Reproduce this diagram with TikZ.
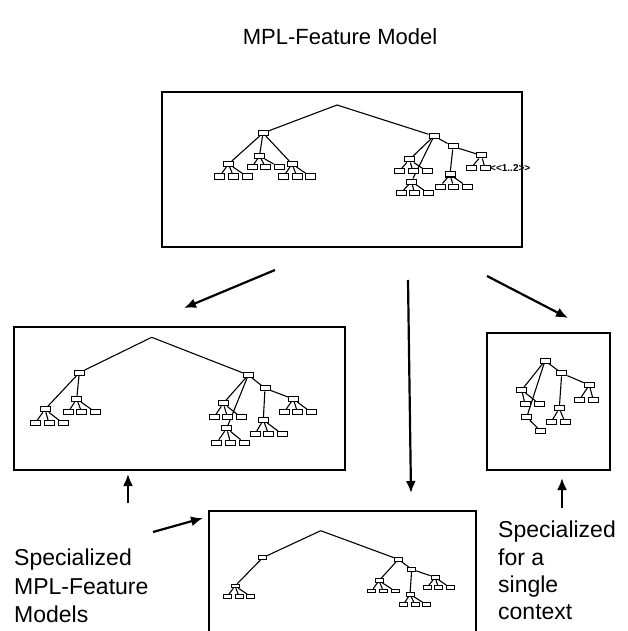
\documentclass[tikz,border=0pt]{standalone}
\usepackage{fontspec}
\setmainfont{Liberation Sans}
\usetikzlibrary{arrows.meta, positioning}

\tikzset{
  frame/.style={draw, line width=1.4pt, rectangle, inner sep=0pt},
  feat/.style={draw, fill=white, rectangle, inner sep=0pt, line width=1pt,
    minimum width=10pt, minimum height=5pt},
  tiny/.style={feat, minimum width=8pt, minimum height=3.6pt, line width=0.9pt},
  edge/.style={line width=1.1pt},
  flow/.style={line width=2.2pt, -{Latex[length=12pt,width=10pt]}},
  lbl/.style={anchor=north west, inner sep=0pt, align=left}
}

% leaves below a parent: #1 parent, #2 prefix, #3 y, #4 x list, #5 style
\newcommand{\kids}[5]{%
  \foreach \xx [count=\ii] in {#4} {
    \node[#5] (#2\ii) at (\xx,#3) {};
    \draw[edge] (#1) -- (#2\ii);
  }}

\begin{document}
\begin{tikzpicture}[x=1pt, y=-1pt]
  \clip (0,0) rectangle (627,631);
  \fill[white] (0,0) rectangle (627,631);

  % title
  \node[font=\fontsize{22}{26}\selectfont, anchor=base] (title) at (340,45) {MPL-Feature Model};

  % frames
  \node[frame, minimum width=360pt, minimum height=155pt] (mpl) at (342,169.5) {};
  \node[frame, minimum width=331pt, minimum height=143pt] (spec) at (179.5,398.5) {};
  \node[frame, minimum width=123pt, minimum height=137pt] (single) at (548.5,401.5) {};
  \node[frame, minimum width=267pt, minimum height=140pt] (part) at (342.5,581) {};

  % MPL feature model tree
  \coordinate (t0) at (337,105);
  \node[feat] (tL) at (263,133) {};
  \node[feat] (tR) at (434,136) {};
  \draw[edge] (t0) -- (tL);
  \draw[edge] (t0) -- (tR);
  \node[feat] (tL1) at (228.5,164) {};
  \node[feat] (tL2) at (259.5,156) {};
  \node[feat] (tL3) at (292,164) {};
  \draw[edge] (tL) -- (tL1);
  \draw[edge] (tL) -- (tL2);
  \draw[edge] (tL) -- (tL3);
  \kids{tL1}{tLa}{176.5}{219.5,233.5,247}{feat}
  \kids{tL2}{tLb}{167}{252,265.5,279}{feat}
  \kids{tL3}{tLc}{176.5}{283.5,297,310.5}{feat}
  \node[feat] (tR1) at (409.5,159.5) {};
  \node[feat] (tR2) at (411.5,181.5) {};
  \node[feat] (tR3) at (453,146.5) {};
  \draw[edge] (tR) -- (tR1);
  \draw[edge] (tR) -- (tR2);
  \draw[edge] (tR) -- (tR3);
  \kids{tR1}{tRa}{171.5}{399,413,427}{feat}
  \kids{tR2}{tRb}{193}{401,414.5,428}{feat}
  \node[feat] (tR4) at (450,174.5) {};
  \node[feat] (tR5) at (481.5,155.5) {};
  \draw[edge] (tR3) -- (tR4);
  \draw[edge] (tR3) -- (tR5);
  \kids{tR4}{tRc}{186.5}{440,453.5,467}{feat}
  \kids{tR5}{tRd}{168}{471,485}{feat}
  \node[font=\fontsize{10}{11}\selectfont\bfseries, anchor=west, inner sep=0pt] (card) at (490,168) {{<}{<}1..2{>}{>}};

  % specialized MPL feature model
  \coordinate (l0) at (151.7,337.3);
  \node[feat] (lL) at (79.3,372.7) {};
  \node[feat] (lR) at (248.3,375) {};
  \draw[edge] (l0) -- (lL);
  \draw[edge] (l0) -- (lR);
  \node[feat] (lL1) at (45,409.3) {};
  \node[feat] (lL2) at (76.7,399) {};
  \draw[edge] (lL) -- (lL1);
  \draw[edge] (lL) -- (lL2);
  \kids{lL1}{lLa}{423.3}{35,49,63}{feat}
  \kids{lL2}{lLb}{412.3}{68,81.7,95.5}{feat}
  \node[feat] (lR1) at (223.3,403.3) {};
  \node[feat] (lR2) at (226.7,428.3) {};
  \node[feat] (lR3) at (265,388.3) {};
  \draw[edge] (lR) -- (lR1);
  \draw[edge] (lR) -- (lR2);
  \draw[edge] (lR) -- (lR3);
  \kids{lR1}{lRa}{417.3}{214,227.5,241}{feat}
  \kids{lR2}{lRb}{442.7}{216.7,230.5,244.3}{feat}
  \node[feat] (lR4) at (263.3,420) {};
  \node[feat] (lR5) at (293.3,399) {};
  \draw[edge] (lR3) -- (lR4);
  \draw[edge] (lR3) -- (lR5);
  \kids{lR4}{lRc}{434}{255,268.5,282}{feat}
  \kids{lR5}{lRd}{412.3}{284,297.5,311}{feat}

  % single context
  \node[feat] (r0) at (545,360.7) {};
  \node[feat] (r1) at (521.7,390) {};
  \node[feat] (r2) at (526.7,417.3) {};
  \node[feat] (r3) at (561.7,373.3) {};
  \draw[edge] (r0) -- (r1);
  \draw[edge] (r0) -- (r2);
  \draw[edge] (r0) -- (r3);
  \kids{r1}{r1k}{404}{525,539.3}{feat}
  \kids{r2}{r2k}{431}{540.7}{feat}
  \node[feat] (r4) at (559.3,408.3) {};
  \node[feat] (r5) at (589.3,385) {};
  \draw[edge] (r3) -- (r4);
  \draw[edge] (r3) -- (r5);
  \kids{r4}{r4k}{422.3}{551,565}{feat}
  \kids{r5}{r5k}{400}{579.3,593.3}{feat}

  % partially specialized
  \coordinate (b0) at (320.7,530.7);
  \node[tiny] (bL) at (262.7,557.7) {};
  \node[tiny] (bR) at (398.3,559.3) {};
  \draw[edge] (b0) -- (bL);
  \draw[edge] (b0) -- (bR);
  \node[tiny] (bL1) at (235,586) {};
  \draw[edge] (bL) -- (bL1);
  \kids{bL1}{bLa}{596.3}{227.3,239,250.5}{tiny}
  \node[tiny] (bR1) at (379,580.7) {};
  \node[tiny] (bR2) at (411.7,569.3) {};
  \draw[edge] (bR) -- (bR1);
  \draw[edge] (bR) -- (bR2);
  \kids{bR1}{bRa}{591}{371.5,383.3,395}{tiny}
  \node[tiny] (bR3) at (410,594.3) {};
  \node[tiny] (bR4) at (435,577.3) {};
  \draw[edge] (bR2) -- (bR3);
  \draw[edge] (bR2) -- (bR4);
  \kids{bR3}{bRb}{604.7}{403.3,415,426.5}{tiny}
  \kids{bR4}{bRc}{587.7}{427,438.5,450}{tiny}

  % labels
  \node[lbl, font=\fontsize{23}{28.5}\selectfont] (lbl1) at (14,549) {Specialized\\MPL-Feature\\Models};
  \node[lbl, font=\fontsize{23}{27.3}\selectfont] (lbl2) at (498,521) {Specialized\\for a\\single\\context};

  % arrows
  \coordinate (s1) at (275,270);
  \coordinate (e1) at (184,308);
  \coordinate (s2) at (408,280);
  \coordinate (e2) at (411,493);
  \coordinate (s3) at (487,276);
  \coordinate (e3) at (568,318);
  \coordinate (s4) at (128,503);
  \coordinate (e4) at (128,474);
  \coordinate (s5) at (562,508);
  \coordinate (e5) at (562,478);
  \coordinate (s6) at (153,532);
  \coordinate (e6) at (203,518);
  \draw[flow] (s1) -- (e1);
  \draw[flow] (s2) -- (e2);
  \draw[flow] (s3) -- (e3);
  \draw[flow] (s4) -- (e4);
  \draw[flow] (s5) -- (e5);
  \draw[flow] (s6) -- (e6);
\end{tikzpicture}
\end{document}
